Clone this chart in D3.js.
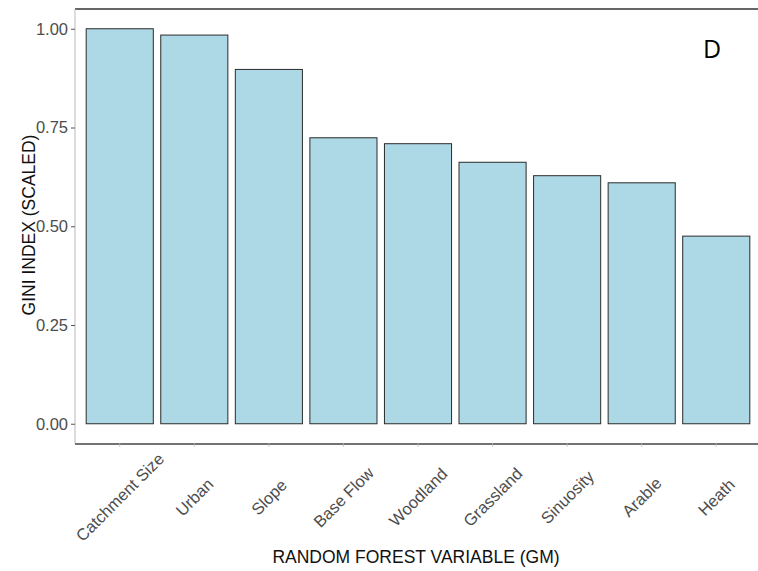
<!DOCTYPE html>
<html>
<head>
<meta charset="utf-8">
<script src="https://cdn.jsdelivr.net/npm/d3@7"></script>
<style>
  html, body { margin: 0; padding: 0; background: #fff; }
  svg { display: block; }
</style>
</head>
<body>
<svg id="chart" width="758" height="571"></svg>
<script>
// Scaled Gini importance for each random forest variable
const categories = ["Catchment Size", "Urban", "Slope", "Base Flow", "Woodland",
                    "Grassland", "Sinuosity", "Arable", "Heath"];
const giniScaled = [1.00, 0.984, 0.897, 0.724, 0.709, 0.662, 0.628, 0.610, 0.475];
const yTicks = [0, 0.25, 0.5, 0.75, 1.0];
const panelLabel = "D";

const W = 758, H = 571;
const panel = { left: 75, right: 761, top: 9, bottom: 443.5 };

const svg = d3.select("#chart");

// categorical axis with ggplot-style 0.6 unit expansion on each side
const n = categories.length;
const step = (panel.right - panel.left) / (n - 1 + 1.2);
const x = d3.scaleBand()
  .domain(categories)
  .range([panel.left + 0.1 * step, panel.right - 0.1 * step])
  .paddingInner(0.1)
  .paddingOuter(0.05);

const y = d3.scaleLinear()
  .domain([-0.05, 1.05])
  .range([panel.bottom, panel.top]);

const font = "'Liberation Sans', Arial, sans-serif";

// bars
svg.append("g")
  .selectAll("rect")
  .data(categories)
  .join("rect")
  .attr("x", d => x(d))
  .attr("width", x.bandwidth())
  .attr("y", (d, i) => y(giniScaled[i]))
  .attr("height", (d, i) => y(0) - y(giniScaled[i]))
  .attr("fill", "#ADD8E6")
  .attr("stroke", "#2b2b2b")
  .attr("stroke-width", 1);

// panel lines
svg.append("line")
  .attr("x1", panel.left).attr("x2", W)
  .attr("y1", panel.top).attr("y2", panel.top)
  .attr("stroke", "#333").attr("stroke-width", 1.5);
svg.append("line")
  .attr("x1", panel.left).attr("x2", panel.left)
  .attr("y1", panel.top).attr("y2", panel.bottom)
  .attr("stroke", "#c4c4c4").attr("stroke-width", 1.2);

// y axis
const yAxis = d3.axisLeft(y)
  .tickValues(yTicks)
  .tickFormat(d3.format(".2f"))
  .tickSize(4)
  .tickPadding(3);
const gy = svg.append("g")
  .attr("transform", `translate(${panel.left},0)`)
  .call(yAxis);
gy.select(".domain").remove();
gy.selectAll(".tick line").attr("stroke", "#555");
gy.selectAll(".tick text")
  .attr("font-family", font).attr("font-size", 16.5).attr("fill", "#4d4d4d");

// x axis
const xAxis = d3.axisBottom(x).tickSize(3).tickSizeOuter(0);
const gx = svg.append("g")
  .attr("transform", `translate(0,${panel.bottom})`)
  .call(xAxis);
gx.select(".domain")
  .attr("d", `M${panel.left},0.5H${W}`)
  .attr("stroke", "#444").attr("stroke-width", 1.5);
gx.selectAll(".tick line").attr("stroke", "#bbb");
gx.selectAll(".tick text")
  .attr("font-family", font).attr("font-size", 16.5).attr("fill", "#4d4d4d")
  .attr("text-anchor", "middle")
  .attr("dominant-baseline", "central")
  .attr("y", 0).attr("dy", null)
  .attr("transform", "translate(0,53.5) rotate(-45)");

// axis titles
svg.append("text")
  .attr("x", 416).attr("y", 563)
  .attr("text-anchor", "middle")
  .attr("font-family", font).attr("font-size", 17.5).attr("fill", "#111")
  .text("RANDOM FOREST VARIABLE (GM)");

svg.append("text")
  .attr("transform", "translate(35,225) rotate(-90)")
  .attr("text-anchor", "middle")
  .attr("font-family", font).attr("font-size", 17.5).attr("fill", "#111")
  .text("GINI INDEX (SCALED)");

// panel letter
svg.append("text")
  .attr("x", 712).attr("y", 58)
  .attr("text-anchor", "middle")
  .attr("font-family", "'Open Sans', 'Noto Sans', sans-serif")
  .attr("font-size", 25).attr("fill", "#000")
  .text(panelLabel);
</script>
</body>
</html>
